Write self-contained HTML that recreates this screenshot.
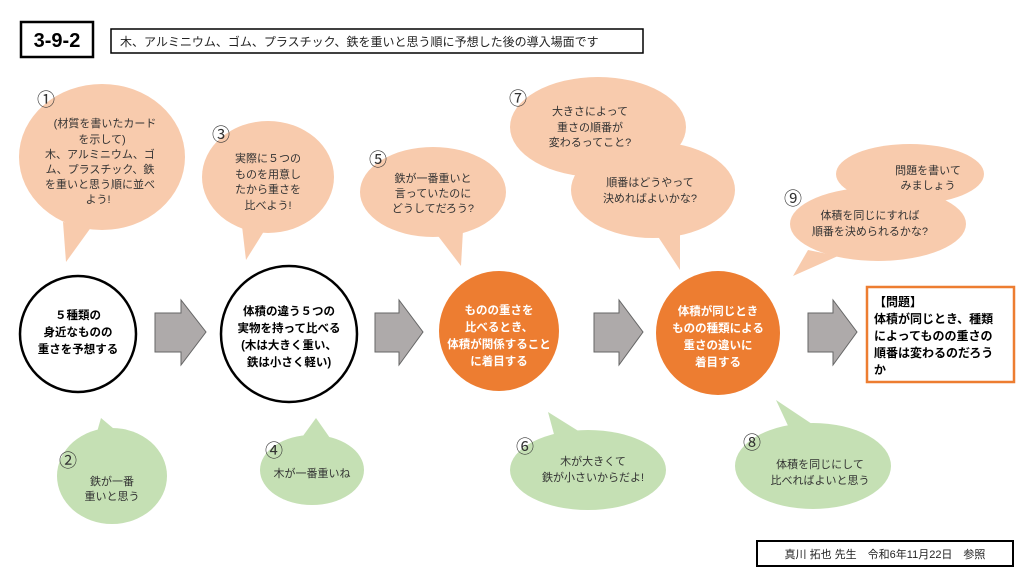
<!DOCTYPE html>
<html><head><meta charset="utf-8"><style>
html,body{margin:0;padding:0;background:#fff}
svg{display:block}
text{font-family:"Liberation Sans","Noto Sans CJK JP",sans-serif;fill:#333;font-size:11px;text-anchor:middle}
.b{font-weight:bold;fill:#000;font-size:11.5px}
.w{font-weight:bold;fill:#fff;font-size:11.5px}
.n{font-size:18px;fill:#333;font-family:"Noto Sans CJK JP",sans-serif}
</style></head><body>
<svg width="1024" height="576" viewBox="0 0 1024 576">
<rect x="21" y="22" width="72" height="35" fill="#fff" stroke="#000" stroke-width="2.5"/>
<text x="57" y="47" style="font-size:20px;font-weight:bold;fill:#000">3-9-2</text>
<rect x="111" y="29" width="532" height="24" fill="#fff" stroke="#000" stroke-width="1.5"/>
<text x="120" y="46" style="text-anchor:start;font-size:12px;fill:#222">木、アルミニウム、ゴム、プラスチック、鉄を重いと思う順に予想した後の導入場面です</text>

<g fill="#f8cbad">
<ellipse cx="102" cy="157" rx="83" ry="73"/><polygon points="63,222 92,226 66,262"/>
<ellipse cx="268" cy="177" rx="66" ry="56"/><polygon points="242,226 266,228 246,260"/>
<ellipse cx="433" cy="192" rx="73" ry="45"/><polygon points="435,232 463,230 461,266"/>
<ellipse cx="598" cy="127" rx="88" ry="50"/>
<ellipse cx="653" cy="190" rx="82" ry="48"/><polygon points="655,232 680,230 680,270"/>
<ellipse cx="910" cy="174" rx="74" ry="30"/>
<ellipse cx="878" cy="224" rx="88" ry="37"/><polygon points="808,250 838,256 793,276"/>
</g>
<text class="n" x="46" y="106">①</text>
<text x="105" y="127">(材質を書いたカード</text>
<text x="102" y="143">を示して)</text>
<text x="100" y="158">木、アルミニウム、ゴ</text>
<text x="100" y="173">ム、プラスチック、鉄</text>
<text x="100" y="188">を重いと思う順に並べ</text>
<text x="98" y="203">よう!</text>
<text class="n" x="221" y="141">③</text>
<text x="268" y="162">実際に５つの</text>
<text x="268" y="178">ものを用意し</text>
<text x="268" y="193">たから重さを</text>
<text x="268" y="209">比べよう!</text>
<text class="n" x="378" y="166">⑤</text>
<text x="433" y="182">鉄が一番重いと</text>
<text x="433" y="197">言っていたのに</text>
<text x="433" y="212">どうしてだろう?</text>
<text class="n" x="518" y="105">⑦</text>
<text x="590" y="115">大きさによって</text>
<text x="590" y="131">重さの順番が</text>
<text x="590" y="146">変わるってこと?</text>
<text x="650" y="186">順番はどうやって</text>
<text x="650" y="202">決めればよいかな?</text>
<text x="928" y="174">問題を書いて</text>
<text x="928" y="189">みましょう</text>
<text class="n" x="793" y="205">⑨</text>
<text x="870" y="219">体積を同じにすれば</text>
<text x="870" y="235">順番を決められるかな?</text>

<g fill="#c5e0b4">
<ellipse cx="112" cy="476" rx="55" ry="48"/><polygon points="97,432 120,434 101,418"/>
<ellipse cx="312" cy="470" rx="52" ry="35"/><polygon points="300,440 330,438 316,418"/>
<ellipse cx="588" cy="470" rx="78" ry="40"/><polygon points="555,438 580,432 548,412"/>
<ellipse cx="813" cy="466" rx="78" ry="43"/><polygon points="790,430 815,426 776,400"/>
</g>
<text class="n" x="68" y="467">②</text>
<text x="112" y="485">鉄が一番</text>
<text x="112" y="500">重いと思う</text>
<text class="n" x="274" y="457">④</text>
<text x="312" y="477">木が一番重いね</text>
<text class="n" x="525" y="453">⑥</text>
<text x="593" y="465">木が大きくて</text>
<text x="593" y="481">鉄が小さいからだよ!</text>
<text class="n" x="752" y="449">⑧</text>
<text x="820" y="468">体積を同じにして</text>
<text x="820" y="484">比べればよいと思う</text>

<circle cx="78" cy="334" r="58" fill="#fff" stroke="#000" stroke-width="2.5"/>
<text class="b" x="78" y="319">５種類の</text>
<text class="b" x="78" y="336">身近なものの</text>
<text class="b" x="78" y="353">重さを予想する</text>
<circle cx="289" cy="334" r="68" fill="#fff" stroke="#000" stroke-width="2.5"/>
<text class="b" x="289" y="315">体積の違う５つの</text>
<text class="b" x="289" y="332">実物を持って比べる</text>
<text class="b" x="289" y="349">(木は大きく重い、</text>
<text class="b" x="289" y="366">鉄は小さく軽い)</text>
<circle cx="499" cy="331" r="60" fill="#ed7d31"/>
<text class="w" x="499" y="314">ものの重さを</text>
<text class="w" x="499" y="331">比べるとき、</text>
<text class="w" x="499" y="348">体積が関係すること</text>
<text class="w" x="499" y="365">に着目する</text>
<circle cx="718" cy="333" r="62" fill="#ed7d31"/>
<text class="w" x="718" y="315">体積が同じとき</text>
<text class="w" x="718" y="332">ものの種類による</text>
<text class="w" x="718" y="349">重さの違いに</text>
<text class="w" x="718" y="366">着目する</text>

<g fill="#aeaaaa" stroke="#666" stroke-width="1">
<polygon points="155,313 181,313 181,300 206,332 181,365 181,352 155,352"/>
<polygon points="375,313 399,313 399,300 423,332 399,365 399,352 375,352"/>
<polygon points="594,313 619,313 619,300 643,332 619,365 619,352 594,352"/>
<polygon points="808,313 833,313 833,300 857,332 833,365 833,352 808,352"/>
</g>

<rect x="867" y="287" width="147" height="95" fill="#fff" stroke="#ed7d31" stroke-width="2.5"/>
<g>
<text x="874" y="306" style="text-anchor:start;fill:#000;font-weight:bold;font-size:12px">【問題】</text>
<text x="874" y="323" style="text-anchor:start;fill:#000;font-weight:bold;font-size:12px">体積が同じとき、種類</text>
<text x="874" y="340" style="text-anchor:start;fill:#000;font-weight:bold;font-size:12px">によってものの重さの</text>
<text x="874" y="357" style="text-anchor:start;fill:#000;font-weight:bold;font-size:12px">順番は変わるのだろう</text>
<text x="874" y="374" style="text-anchor:start;fill:#000;font-weight:bold;font-size:12px">か</text>
</g>

<rect x="757" y="541" width="256" height="25" fill="#fff" stroke="#000" stroke-width="2"/>
<text x="885" y="558" style="fill:#222;font-size:11px">真川 拓也 先生　令和6年11月22日　参照</text>
</svg>
</body></html>
